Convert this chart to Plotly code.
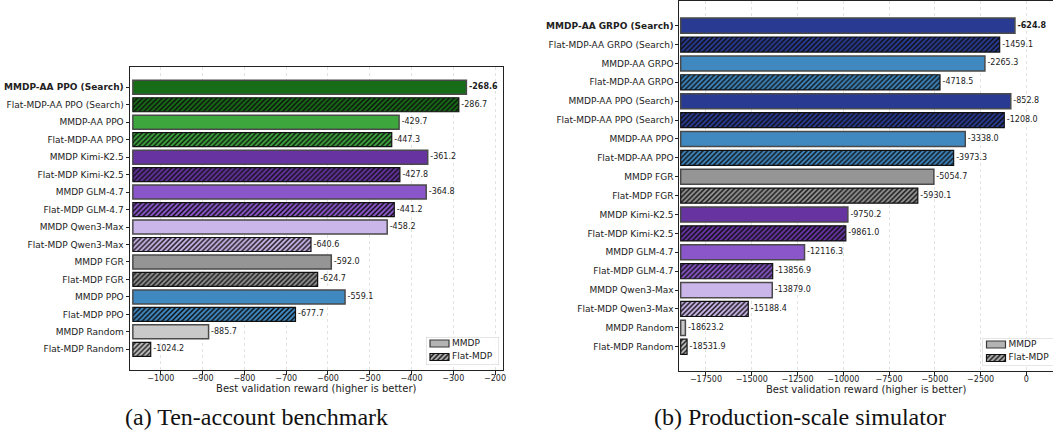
import plotly.graph_objects as go

W, H = 1053, 437

# (a) Ten-account benchmark, top to bottom
names_a = ["MMDP-AA PPO (Search)", "Flat-MDP-AA PPO (Search)", "MMDP-AA PPO", "Flat-MDP-AA PPO",
           "MMDP Kimi-K2.5", "Flat-MDP Kimi-K2.5", "MMDP GLM-4.7", "Flat-MDP GLM-4.7",
           "MMDP Qwen3-Max", "Flat-MDP Qwen3-Max", "MMDP FGR", "Flat-MDP FGR",
           "MMDP PPO", "Flat-MDP PPO", "MMDP Random", "Flat-MDP Random"]
values_a = [-268.6, -286.7, -429.7, -447.3, -361.2, -427.8, -364.8, -441.2,
            -458.2, -640.6, -592.0, -624.7, -559.1, -677.7, -885.7, -1024.2]
colors_a = ["#176c17", "#176c17", "#3da63d", "#3da63d", "#6633a1", "#6633a1", "#8a56c9", "#8a56c9",
            "#cbb6ea", "#cbb6ea", "#959595", "#959595", "#3f88c0", "#3f88c0", "#c9c9c9", "#c9c9c9"]
ticks_a = [-1000, -900, -800, -700, -600, -500, -400, -300, -200]

# (b) Production-scale simulator, top to bottom
names_b = ["MMDP-AA GRPO (Search)", "Flat-MDP-AA GRPO (Search)", "MMDP-AA GRPO", "Flat-MDP-AA GRPO",
           "MMDP-AA PPO (Search)", "Flat-MDP-AA PPO (Search)", "MMDP-AA PPO", "Flat-MDP-AA PPO",
           "MMDP FGR", "Flat-MDP FGR", "MMDP Kimi-K2.5", "Flat-MDP Kimi-K2.5",
           "MMDP GLM-4.7", "Flat-MDP GLM-4.7", "MMDP Qwen3-Max", "Flat-MDP Qwen3-Max",
           "MMDP Random", "Flat-MDP Random"]
values_b = [-624.8, -1459.1, -2265.3, -4718.5, -852.8, -1208.0, -3338.0, -3973.3,
            -5054.7, -5930.1, -9750.2, -9861.0, -12116.3, -13856.9, -13879.0, -15188.4,
            -18623.2, -18531.9]
colors_b = ["#283a91", "#283a91", "#3f88c0", "#3f88c0", "#283a91", "#283a91", "#3f88c0", "#3f88c0",
            "#959595", "#959595", "#6633a1", "#6633a1", "#8a56c9", "#8a56c9", "#cbb6ea", "#cbb6ea",
            "#c9c9c9", "#c9c9c9"]
ticks_b = [-17500, -15000, -12500, -10000, -7500, -5000, -2500, 0]

legend_names = ["MMDP", "Flat-MDP"]

FONT = "DejaVu Sans"
HATCH = dict(shape="/", fillmode="replace", fgcolor="#0d0d0d", fgopacity=1, size=3.5, solidity=0.4)


def px_x(p):
    return p / W


def px_y(p):
    return 1 - p / H


def add_panel(fig, names, values, colors, base, xa, ya):
    flat = [n.startswith("Flat") for n in names]
    solid_i = [i for i, f in enumerate(flat) if not f]
    flat_i = [i for i, f in enumerate(flat) if f]
    # MMDP bars: plain fill
    fig.add_trace(go.Bar(
        y=[names[i] for i in solid_i], x=[values[i] - base for i in solid_i], base=base,
        orientation="h", width=0.8,
        marker=dict(color=[colors[i] for i in solid_i], line=dict(color="#4a4a4a", width=1.5)),
        xaxis=xa, yaxis=ya, showlegend=False, hoverinfo="skip",
    ))
    # Flat-MDP bars: hatched fill
    fig.add_trace(go.Bar(
        y=[names[i] for i in flat_i], x=[values[i] - base for i in flat_i], base=base,
        orientation="h", width=0.8,
        marker=dict(color="#0d0d0d", line=dict(color="#111111", width=1.2),
                    pattern=dict(HATCH, bgcolor=[colors[i] for i in flat_i])),
        xaxis=xa, yaxis=ya, showlegend=False, hoverinfo="skip",
    ))
    labels = ["\u00a0" + (f"<b>{v:.1f}</b>" if i == 0 else f"{v:.1f}") for i, v in enumerate(values)]
    fig.add_trace(go.Scatter(
        x=values, y=names, mode="text", text=labels, textposition="middle right",
        textfont=dict(family=FONT, size=8, color="#1a1a1a"),
        xaxis=xa, yaxis=ya, showlegend=False, cliponaxis=False, hoverinfo="skip",
    ))


def add_legend(fig, xa, ya):
    # swatches drawn on a small hidden axis pair spanning the legend box (units: px)
    fig.add_trace(go.Bar(
        y=[6.5], x=[19], base=4, orientation="h", width=7,
        marker=dict(color="#b3b3b3", line=dict(color="#3a3a3a", width=1.2)),
        xaxis=xa, yaxis=ya, showlegend=False, hoverinfo="skip",
    ))
    fig.add_trace(go.Bar(
        y=[20], x=[19], base=4, orientation="h", width=7,
        marker=dict(color="#0d0d0d", line=dict(color="#111111", width=1.2),
                    pattern=dict(HATCH, bgcolor="#b3b3b3")),
        xaxis=xa, yaxis=ya, showlegend=False, hoverinfo="skip",
    ))
    fig.add_trace(go.Scatter(
        x=[26, 26], y=[6.5, 20], mode="text", text=legend_names, textposition="middle right",
        textfont=dict(family=FONT, size=9, color="#222222"),
        xaxis=xa, yaxis=ya, showlegend=False, cliponaxis=False, hoverinfo="skip",
    ))


fig = go.Figure()
add_panel(fig, names_a, values_a, colors_a, -1067, "x", "y")
add_panel(fig, names_b, values_b, colors_b, -18880, "x2", "y2")
add_legend(fig, "x3", "y3")
add_legend(fig, "x4", "y4")


def xaxis_cfg(domain, rng, ticks):
    return dict(domain=domain, range=rng, tickmode="array", tickvals=ticks,
                ticktext=[("\u2212" + str(abs(t))) if t < 0 else str(t) for t in ticks],
                tickfont=dict(family=FONT, size=8, color="#222222"),
                ticks="outside", ticklen=3.5, tickwidth=0.8, tickcolor="#222222",
                ticklabelstandoff=-3,
                showline=True, mirror=True, linecolor="#222222", linewidth=1,
                showgrid=True, gridcolor="#e2e2e2", gridwidth=0.8, griddash="dot",
                zeroline=False, automargin=False,
                title=dict(text="Best validation reward (higher is better)",
                           font=dict(family=FONT, size=10, color="#222222"), standoff=2))


def yaxis_cfg(domain, names):
    n = len(names)
    pad = 0.05 * (n - 1 + 0.8) + 0.4
    return dict(domain=domain, type="category", categoryorder="array", categoryarray=names,
                range=[n - 1 + pad, -pad],
                tickmode="array", tickvals=names,
                ticktext=[f"<b>{s}</b>" if i == 0 else s for i, s in enumerate(names)],
                tickfont=dict(family=FONT, size=9, color="#222222"),
                ticks="outside", ticklen=3, tickwidth=0.8, tickcolor="#222222",
                showline=True, mirror=True, linecolor="#222222", linewidth=1,
                showgrid=False, zeroline=False, automargin=False)


def hidden(domain, rng, anchor):
    return dict(domain=domain, range=rng, visible=False, fixedrange=True, anchor=anchor)


# legend boxes (left, top, right, bottom in px)
box_a = (426, 337, 499, 365)
box_b = (982.5, 338, 1055.5, 366)

shapes = []
for (l, t, r, b), xr, yr in [(box_a, "x3", "y3"), (box_b, "x4", "y4")]:
    shapes.append(dict(type="rect", xref=xr, yref=yr, x0=0, x1=r - l, y0=0, y1=b - t,
                       fillcolor="rgba(255,255,255,0.85)", line=dict(width=0), layer="between"))
    shapes.append(dict(type="rect", xref=xr, yref=yr, x0=0, x1=r - l, y0=0, y1=b - t,
                       fillcolor="rgba(0,0,0,0)", line=dict(color="#cccccc", width=1), layer="above"))

fig.update_layout(
    width=W, height=H, margin=dict(l=0, r=0, t=0, b=0), autosize=False,
    paper_bgcolor="white", plot_bgcolor="rgba(0,0,0,0)", barmode="overlay", showlegend=False,
    font=dict(family=FONT, color="#222222"),
    xaxis=xaxis_cfg([px_x(129.5), px_x(503)], [-1075, -181], ticks_a),
    yaxis=yaxis_cfg([px_y(370.1), px_y(66.5)], names_a),
    xaxis2=dict(xaxis_cfg([px_x(679.3), 1.0], [-18956, 1453], ticks_b), anchor="y2"),
    yaxis2=dict(yaxis_cfg([px_y(371.1), px_y(1.3)], names_b), anchor="x2"),
    xaxis3=hidden([px_x(box_a[0]), px_x(box_a[2])], [0, box_a[2] - box_a[0]], "y3"),
    yaxis3=hidden([px_y(box_a[3]), px_y(box_a[1])], [box_a[3] - box_a[1], 0], "x3"),
    xaxis4=hidden([px_x(box_b[0]), 1.0], [0, W - box_b[0]], "y4"),
    yaxis4=hidden([px_y(box_b[3]), px_y(box_b[1])], [box_b[3] - box_b[1], 0], "x4"),
    shapes=shapes,
    annotations=[
        dict(text="(a) Ten-account benchmark", x=px_x(256), y=px_y(416.5), xref="paper", yref="paper",
             showarrow=False, xanchor="center", yanchor="middle",
             font=dict(family="Liberation Serif", size=24, color="#111111")),
        dict(text="(b) Production-scale simulator", x=px_x(800), y=px_y(416.5), xref="paper", yref="paper",
             showarrow=False, xanchor="center", yanchor="middle",
             font=dict(family="Liberation Serif", size=24, color="#111111")),
    ],
)

fig.write_html("out.html")
